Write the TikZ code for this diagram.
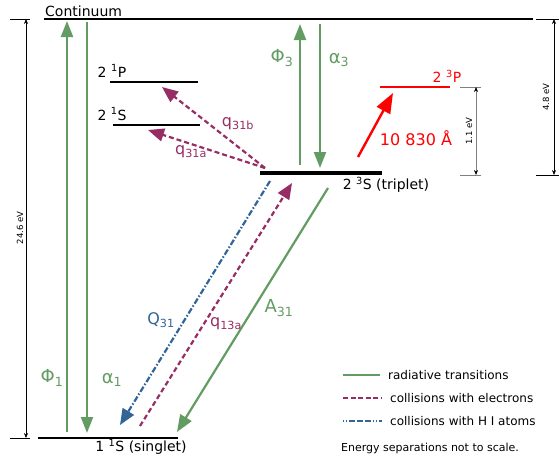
\documentclass[tikz,border=0pt]{standalone}
\usepackage{fontspec}
\setmainfont{DejaVu Sans}
\usetikzlibrary{arrows.meta}
\definecolor{radgreen}{RGB}{98,156,98}
\definecolor{elpurple}{RGB}{150,45,100}
\definecolor{hblue}{RGB}{50,100,150}
\tikzset{lvl/.style={line width=2.4pt},
  rad/.style={radgreen, line width=2.2pt, -{Triangle[length=16pt,width=12pt]}},
  ecol/.style={elpurple, line width=2.2pt, dash pattern=on 5pt off 3pt, -{Triangle[length=16pt,width=13pt]}},
  hcol/.style={hblue, line width=2.2pt, dash pattern=on 6pt off 2pt on 1.5pt off 2pt, -{Triangle[length=16pt,width=13pt]}},
  ruler/.style={line width=0.6pt, {Stealth[length=5pt,width=4pt]}-{Stealth[length=5pt,width=4pt]}},
  tick/.style={line width=0.6pt},
  lbl/.style={font=\fontsize{14}{16}\selectfont, inner sep=0pt},
  clbl/.style={font=\fontsize{16}{18}\selectfont, inner sep=0pt},
  glbl/.style={font=\fontsize{18}{20}\selectfont, radgreen, inner sep=0pt},
  rlbl/.style={font=\fontsize{8.5}{10}\selectfont, inner sep=0pt, rotate=90},
  key/.style={anchor=west, font=\fontsize{12}{14}\selectfont, inner sep=0pt}}

\begin{document}
\begin{tikzpicture}[x=1pt, y=-1pt]
  \useasboundingbox (0,0) rectangle (559,455);
  % levels
  \coordinate (cont-w) at (44,19);  \coordinate (cont-e) at (533,19);
  \coordinate (p1-w) at (110,82);   \coordinate (p1-e) at (198,82);
  \coordinate (s1-w) at (113,125);  \coordinate (s1-e) at (200,125);
  \coordinate (s3-w) at (260,173);  \coordinate (s3-e) at (382,173);
  \coordinate (p3-w) at (380,87);   \coordinate (p3-e) at (450,87);
  \coordinate (g-w) at (38,438);    \coordinate (g-e) at (178,438);
  \draw[lvl] (cont-w) -- (cont-e);
  \draw[lvl] (p1-w) -- (p1-e);
  \draw[lvl] (s1-w) -- (s1-e);
  \draw[line width=4.5pt] (s3-w) -- (s3-e);
  \draw[lvl, red] (p3-w) -- (p3-e);
  \draw[lvl] (g-w) -- (g-e);
  \node[lbl, anchor=south west] (cont) at (45,17) {Continuum};
  \node[lbl] (p1) at (112,71) {2 \textsuperscript{1}P};
  \node[lbl] (s1) at (112,114) {2 \textsuperscript{1}S};
  \node[lbl] (s3) at (386,185) {2 \textsuperscript{3}S (triplet)};
  \node[lbl, red] (p3) at (447,76) {2 \textsuperscript{3}P};
  \node[lbl] (g) at (141,447) {1 \textsuperscript{1}S (singlet)};
  % radiative transitions
  \coordinate (phi1-b) at (67,432);  \coordinate (phi1-t) at (67,21);
  \coordinate (al1-t) at (87,22);    \coordinate (al1-b) at (87,433);
  \coordinate (phi3-b) at (300,165); \coordinate (phi3-t) at (300,24);
  \coordinate (al3-t) at (320,24);   \coordinate (al3-b) at (320,168);
  \coordinate (a31-t) at (328,188);  \coordinate (a31-b) at (177,432);
  \draw[rad] (phi1-b) -- (phi1-t);
  \draw[rad] (al1-t) -- (al1-b);
  \draw[rad] (phi3-b) -- (phi3-t);
  \draw[rad] (al3-t) -- (al3-b);
  \draw[rad, -{Triangle[length=17pt,width=13pt]}] (a31-t) -- (a31-b);
  \node[glbl] (phi1) at (52,378) {Φ\textsubscript{1}};
  \node[glbl] (al1) at (112,380) {α\textsubscript{1}};
  \node[glbl] (phi3) at (282,58) {Φ\textsubscript{3}};
  \node[glbl] (al3) at (339,60) {α\textsubscript{3}};
  \node[glbl] (a31) at (279,308) {A\textsubscript{31}};
  % 10830 line
  \coordinate (he-b) at (358,157); \coordinate (he-t) at (393,93);
  \draw[red, line width=2.4pt, -{Triangle[length=20pt,width=15pt]}] (he-b) -- (he-t);
  \node[lbl, red, font=\fontsize{16}{18}\selectfont] (he) at (416,138) {10 830 Å};
  % collisions
  \coordinate (q-o) at (265,168);
  \coordinate (q31b-e) at (162,87);  \coordinate (q31a-e) at (148,130);
  \coordinate (q13a-b) at (140,426); \coordinate (q13a-t) at (292,183);
  \coordinate (Q31-t) at (270,181);  \coordinate (Q31-b) at (120,425);
  \draw[ecol] (q-o) -- (q31b-e);
  \draw[ecol] (q-o) -- (q31a-e);
  \draw[ecol] (q13a-b) -- (q13a-t);
  \draw[hcol] (Q31-t) -- (Q31-b);
  \node[clbl, elpurple] (q31b) at (238,124) {q\textsubscript{31b}};
  \node[clbl, elpurple] (q31a) at (191,152) {q\textsubscript{31a}};
  \node[clbl, elpurple] (q13a) at (226,324) {q\textsubscript{13a}};
  \node[clbl, hblue] (Q31) at (161,320) {Q\textsubscript{31}};
  % energy rulers
  \draw[tick] (10,19) -- (30,19);  \draw[tick] (10,438) -- (30,438);
  \coordinate (r1-t) at (26,19);   \coordinate (r1-b) at (26,438);
  \draw[ruler] (r1-t) -- (r1-b);
  \node[rlbl] (r1) at (20,228) {24.6 eV};
  \draw[tick, gray] (460,87) -- (481,87);  \draw[tick, gray] (460,175) -- (481,175);
  \coordinate (r2-t) at (476,87);  \coordinate (r2-b) at (476,175);
  \draw[ruler, gray, {Stealth[length=5pt,width=4pt,black]}-{Stealth[length=5pt,width=4pt,black]}] (r2-t) -- (r2-b);
  \node[rlbl] (r2) at (469,131) {1.1 eV};
  \draw[tick] (536,19) -- (559,19);  \draw[tick] (536,175) -- (559,175);
  \coordinate (r3-t) at (554,19);  \coordinate (r3-b) at (554,175);
  \draw[ruler] (r3-t) -- (r3-b);
  \node[rlbl] (r3) at (546,97) {4.8 eV};
  % legend
  \coordinate (k1-w) at (343,375); \coordinate (k1-e) at (380,375);
  \coordinate (k2-w) at (343,398); \coordinate (k2-e) at (382,398);
  \coordinate (k3-w) at (343,421); \coordinate (k3-e) at (382,421);
  \draw[radgreen, line width=2pt] (k1-w) -- (k1-e);
  \draw[elpurple, line width=2pt, dash pattern=on 5pt off 2.5pt] (k2-w) -- (k2-e);
  \draw[hblue, line width=2pt, dash pattern=on 1pt off 2pt on 1pt off 2pt on 6pt off 2pt on 6pt off 2pt on 6pt off 2pt] (k3-w) -- (k3-e);
  \node[key] (k1) at (388,375) {radiative transitions};
  \node[key] (k2) at (390,398) {collisions with electrons};
  \node[key] (k3) at (390,421) {collisions with H I atoms};
  \node[key, font=\fontsize{11}{13}\selectfont] (note) at (341,448) {Energy separations not to scale.};
\end{tikzpicture}
\end{document}
